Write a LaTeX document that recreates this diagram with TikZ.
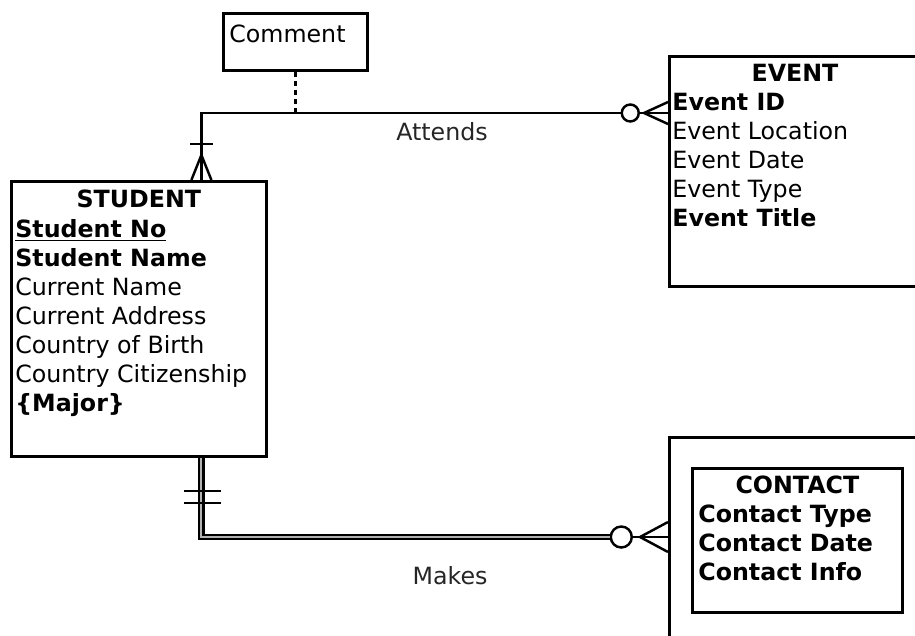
\documentclass[tikz,border=0pt]{standalone}
\usepackage{fontspec}
\setmainfont{DejaVu Sans}
\usetikzlibrary{positioning}

\newcommand{\erfont}{\fontsize{13.5}{16.5}\selectfont}

\begin{document}
\begin{tikzpicture}[x=0.02cm, y=-0.02cm]
\tikzstyle{entity} = [rectangle, draw, line width=1.6pt, anchor=north west, inner sep=0pt]
\tikzstyle{etitle} = [anchor=base, inner sep=0pt, font=\erfont\bfseries]
\tikzstyle{attrs} = [anchor=north west, align=left, inner sep=0pt, font=\erfont]
\tikzstyle{ring} = [circle, draw, line width=1.4pt, fill=white, inner sep=0pt]
\tikzstyle{line} = [draw, line width=1.4pt]
\tikzstyle{dbl} = [draw, line width=1.3pt, double=gray!60, double distance=1.1pt]
\tikzstyle{rel} = [font=\erfont, text=black!85]

\useasboundingbox (0,0) rectangle (915,635);
\clip (0,0) rectangle (915,635);

% entities
\node [entity, minimum width=5.1cm, minimum height=5.5cm] (student) at (10,180) {};
\node [entity, minimum width=5.5cm, minimum height=4.6cm] (event) at (668,55) {};
\node [entity, minimum width=5.5cm, minimum height=4.6cm] (contact) at (668,436) {};
\node [entity, minimum width=4.2cm, minimum height=2.88cm] (contactin) at (691,467) {};
\node [entity, minimum width=2.88cm, minimum height=1.14cm] (comment) at (222,12) {};

\node [etitle] (stitle) at ([shift={(0,27)}]student.north) {STUDENT};
\node [etitle] (etitle) at ([shift={(127,27)}]event.north west) {EVENT};
\node [etitle] (ctitle) at ([shift={(0,26)}]contactin.north) {CONTACT};

\node [attrs] (sattrs) at ([shift={(5,39)}]student.north west)
  {\underline{\textbf{Student No}}\\ \textbf{Student Name}\\ Current Name\\
   Current Address\\ Country of Birth\\ Country Citizenship\\ \textbf{\{Major\}}};
\node [attrs] (eattrs) at ([shift={(4,38)}]event.north west)
  {\textbf{Event ID}\\ Event Location\\ Event Date\\ Event Type\\ \textbf{Event Title}};
\node [attrs] (cattrs) at ([shift={(7,38)}]contactin.north west)
  {\textbf{Contact Type}\\ \textbf{Contact Date}\\ \textbf{Contact Info}};
\node [attrs] (ctext) at ([shift={(7,13)}]comment.north west) {Comment};

% attach points
\coordinate (stop) at ([shift={(62.5,0)}]student.north);
\coordinate (sbot) at ([shift={(62.5,0)}]student.south);
\coordinate (ein) at ([shift={(0,58)}]event.north west);
\coordinate (cin) at ([shift={(0,101)}]contact.north west);
\node [ring, minimum size=0.34cm, left=0.56cm of ein] (o1) {};
\node [ring, minimum size=0.42cm, left=0.7cm of cin] (o2) {};

% Attends
\path [line] (stop) |- (o1.west);
\path [line] (o1.east) -- (ein);
\path [line] ([shift={(-24,0)}]ein) -- ([shift={(0,-11)}]ein);
\path [line] ([shift={(-24,0)}]ein) -- ([shift={(0,11)}]ein);
\path [line] ([shift={(0,-25)}]stop) -- ([shift={(-10,0)}]stop);
\path [line] ([shift={(0,-25)}]stop) -- ([shift={(10,0)}]stop);
\path [line] ([shift={(-11,-36)}]stop) -- ([shift={(12,-36)}]stop);
\path [line, dash pattern=on 0.1cm off 0.08cm] (comment.south) -- (comment.south |- ein);
\node [rel] (attends) at (442,132) {Attends};

% Makes
\path [dbl] (sbot) |- (o2.west);
\path [line] (o2.east) -- (cin);
\path [line] ([shift={(-28,0)}]cin) -- ([shift={(0,-15)}]cin);
\path [line] ([shift={(-28,0)}]cin) -- ([shift={(0,15)}]cin);
\path [line] ([shift={(-17,33)}]sbot) -- ([shift={(20,33)}]sbot);
\path [line] ([shift={(-17,45)}]sbot) -- ([shift={(20,45)}]sbot);
\node [rel] (makes) at (450,576) {Makes};

\end{tikzpicture}
\end{document}
